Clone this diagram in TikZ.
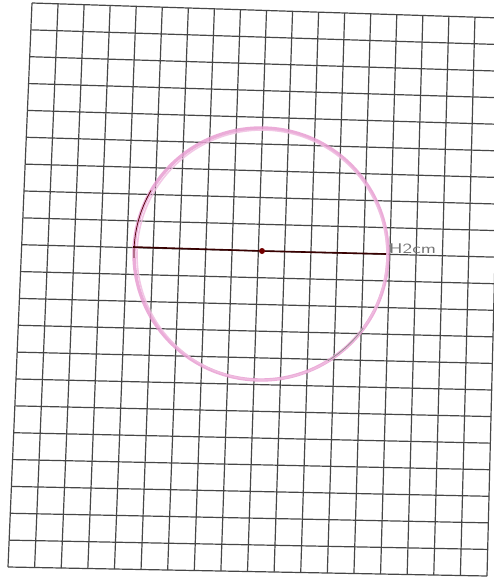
\documentclass[tikz,border=0pt]{standalone}
\usepackage{graphicx}
\usetikzlibrary{calc}
\definecolor{penpink}{RGB}{232,158,210}
\definecolor{penpale}{RGB}{240,190,225}

\begin{document}
\begin{tikzpicture}[x=1pt, y=-1pt,
    gridline/.style={draw=black!72, line width=1.2pt},
    rim/.style={draw=penpink, line width=3.4pt, opacity=0.85},
    pencil/.style={draw=black!70!red, line width=0.7pt},
    diam/.style={draw=black!78!red, line width=1.6pt},
    dot/.style={circle, fill=black!55!red, inner sep=0pt, minimum size=6pt},
]
\useasboundingbox (0,0) rectangle (494,578);
\clip (0,0) rectangle (494,578);
\fill[white] (0,0) rectangle (494,578);

% corners of the (slightly skewed) sheet
\coordinate (tl) at (32,3);
\coordinate (tr) at (501,18);
\coordinate (bl) at (8,567);
\coordinate (br) at (487,576);

\foreach \i in {0,...,18}
  \draw[gridline] ($(tl)!\i/18!(tr)$) -- ($(bl)!\i/18!(br)$);
\foreach \j in {0,...,21}
  \draw[gridline] ($(tl)!\j/21!(bl)$) -- ($(tr)!\j/21!(br)$);

% circle
\coordinate (mid) at (261,254);
\draw[rim] (mid) ellipse[x radius=127pt, y radius=126pt];
\draw[rim, line width=1.6pt, draw=penpale] ($(mid)+(1,1)$) ellipse[x radius=125pt, y radius=125pt];
\draw[pencil] (mid) ++(150:127pt) arc[start angle=150, end angle=182, x radius=127pt, y radius=126pt];
\draw[pencil, draw=black!45] (mid) ++(-58:126pt) arc[start angle=-58, end angle=-36, x radius=127pt, y radius=126pt];

% diameter
\coordinate (west) at (133,247);
\node[dot] (centre) at (262,251) {};
\coordinate (east) at (386,254);
\draw[diam] (west) -- (centre) -- (east);
\node[anchor=west, inner sep=0pt, text=black!55, font=\sffamily\fontsize{14}{14}\selectfont] (len) at (389,249) {\scalebox{1.4}[1]{H2cm}};
\end{tikzpicture}
\end{document}
